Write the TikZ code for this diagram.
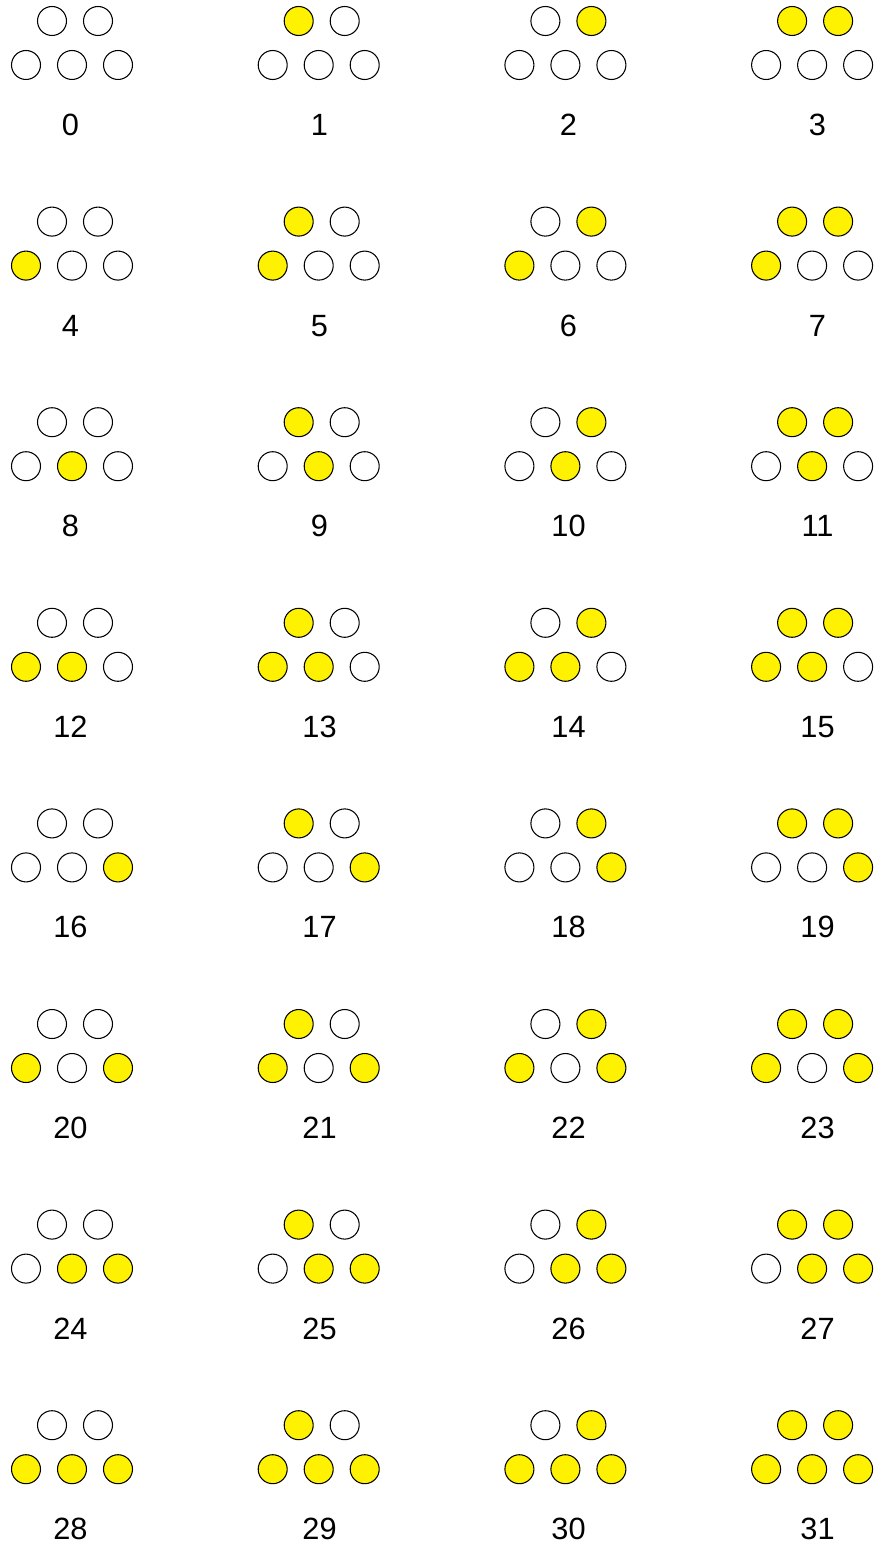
\documentclass[tikz,border=0pt]{standalone}
\usepackage{fontspec}
\setmainfont{Liberation Sans}
\usepackage{tikz}

\begin{document}
\begin{tikzpicture}[x=0.02cm, y=-0.02cm]
    \tikzset{
        dot/.style={circle, draw=black, line width=0.6pt, minimum size=0.58cm, inner sep=0pt},
        bit0/.style={fill=white},
        bit1/.style={fill=yellow},
        num/.style={font=\fontsize{17.5}{21}\selectfont, inner sep=0pt}
    }
    \useasboundingbox (0,0) rectangle (884,1544);

    % 1. 32 nhóm, mỗi nhóm 5 bit (hàng trên: bit 0, 1; hàng dưới: bit 2, 3, 4)
    \foreach \n in {0,...,31}{
        \pgfmathtruncatemacro\col{mod(\n,4)}
        \pgfmathtruncatemacro\row{int(\n/4)}
        \pgfmathsetmacro\cx{72+246.7*\col}
        \pgfmathsetmacro\cy{65+200.6*\row}
        % 2. Các chấm tròn: vàng nếu bit bằng 1
        \foreach \k/\dx/\dy in {0/-20/-44, 1/26/-44, 2/-46/0, 3/0/0, 4/46/0}{
            \pgfmathtruncatemacro\b{mod(floor(\n/2^\k),2)}
            \node[dot, bit\b] (d\n-\k) at (\cx+\dx, \cy+\dy) {};
        }
        % 3. Số thập phân bên dưới
        \node[num] (lbl\n) at (70.5+249*\col, \cy+60) {\n};
    }
\end{tikzpicture}
\end{document}
